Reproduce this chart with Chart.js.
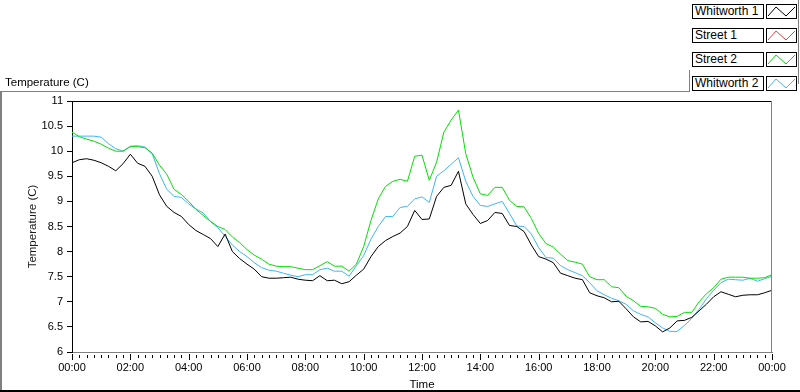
<!DOCTYPE html>
<html>
<head>
<meta charset="utf-8">
<script src="https://cdn.jsdelivr.net/npm/chart.js@4"></script>
<style>
  html, body { margin: 0; padding: 0; background: #fff; }
  #wrap { position: relative; width: 800px; height: 392px; overflow: hidden; font-family: "Liberation Sans", Arial, sans-serif; }
  #plot { position: absolute; left: 0; top: 0; }
  .line { position: absolute; }
  #panelTitle { position: absolute; left: 5px; top: 76px; font-size: 11.5px; color: #000; }
  .lgLabel { position: absolute; left: 692px; width: 68px; height: 13px; border: 1px solid #000; font-size: 12px; line-height: 13px; padding-left: 2px; background: #fff; white-space: nowrap; }
  .lgSample { position: absolute; left: 766px; width: 29px; height: 13px; border: 1px solid #000; background: #fff; }
  .lgSample svg { position: absolute; left: 0; top: 0; }
</style>
</head>
<body>
<div id="wrap">
  <canvas id="plot" width="800" height="392"></canvas>
  <div class="line" style="left:0;top:91px;width:689px;height:1px;background:#808080"></div>
  <div class="line" style="left:689px;top:70px;width:1px;height:22px;background:#808080"></div>
  <div class="line" style="left:798px;top:0;width:1px;height:84px;background:#808080"></div>
  <div class="line" style="left:0;top:91px;width:2px;height:300px;background:#808080"></div>
  <div class="line" style="left:0;top:390px;width:800px;height:2px;background:#000"></div>
  <div id="panelTitle">Temperature (C)</div>
  <div id="legend"></div>
</div>
<script>
// time of day in hours, one reading every 15 minutes
const times = [
  0, 0.25, 0.5, 0.75, 1, 1.25, 1.5, 1.75, 2, 2.25, 2.5, 2.75,
  3, 3.25, 3.5, 3.75, 4, 4.25, 4.5, 4.75, 5, 5.25, 5.5, 5.75,
  6, 6.25, 6.5, 6.75, 7, 7.25, 7.5, 7.75, 8, 8.25, 8.5, 8.75,
  9, 9.25, 9.5, 9.75, 10, 10.25, 10.5, 10.75, 11, 11.25, 11.5, 11.75,
  12, 12.25, 12.5, 12.75, 13, 13.25, 13.5, 13.75, 14, 14.25, 14.5, 14.75,
  15, 15.25, 15.5, 15.75, 16, 16.25, 16.5, 16.75, 17, 17.25, 17.5, 17.75,
  18, 18.25, 18.5, 18.75, 19, 19.25, 19.5, 19.75, 20, 20.25, 20.5, 20.75,
  21, 21.25, 21.5, 21.75, 22, 22.25, 22.5, 22.75, 23, 23.25, 23.5, 23.75, 24
];

const whitworth1 = [
  9.77, 9.83, 9.85, 9.82, 9.77, 9.70, 9.61, 9.75, 9.94, 9.76, 9.70, 9.50,
  9.13, 8.90, 8.78, 8.70, 8.54, 8.42, 8.34, 8.26, 8.10, 8.35, 8.00, 7.86,
  7.75, 7.65, 7.50, 7.47, 7.47, 7.48, 7.49, 7.45, 7.43, 7.42, 7.52, 7.42,
  7.43, 7.36, 7.40, 7.53, 7.65, 7.90, 8.10, 8.22, 8.30, 8.37, 8.50, 8.82,
  8.64, 8.65, 9.10, 9.28, 9.32, 9.60, 8.95, 8.74, 8.56, 8.62, 8.78, 8.76,
  8.52, 8.50, 8.40, 8.13, 7.90, 7.85, 7.78, 7.57, 7.52, 7.47, 7.44, 7.18,
  7.12, 7.08, 7.00, 7.01, 6.86, 6.70, 6.60, 6.61, 6.52, 6.40, 6.48, 6.62,
  6.63, 6.69, 6.82, 6.95, 7.10, 7.20, 7.15, 7.10, 7.13, 7.14, 7.14, 7.18, 7.23
];

const street1 = [];

const street2 = [
  10.38, 10.29, 10.24, 10.20, 10.14, 10.06, 10.00, 10.00, 10.09, 10.09, 10.07, 9.96,
  9.72, 9.54, 9.24, 9.14, 9.00, 8.84, 8.72, 8.60, 8.50, 8.44, 8.29, 8.18,
  8.04, 7.93, 7.85, 7.75, 7.71, 7.70, 7.70, 7.67, 7.64, 7.64, 7.72, 7.80,
  7.71, 7.71, 7.61, 7.75, 8.10, 8.62, 9.05, 9.30, 9.40, 9.44, 9.40, 9.90,
  9.92, 9.42, 9.78, 10.38, 10.62, 10.82, 9.95, 9.48, 9.15, 9.12, 9.28, 9.28,
  9.02, 8.90, 8.89, 8.66, 8.36, 8.16, 8.09, 7.95, 7.82, 7.79, 7.75, 7.50,
  7.44, 7.44, 7.30, 7.28, 7.11, 7.02, 6.91, 6.90, 6.87, 6.75, 6.70, 6.71,
  6.79, 6.79, 7.00, 7.16, 7.28, 7.45, 7.49, 7.49, 7.49, 7.47, 7.47, 7.48, 7.54
];

const whitworth2 = [
  10.30, 10.30, 10.30, 10.30, 10.28, 10.15, 10.05, 10.00, 10.10, 10.11, 10.08, 9.95,
  9.55, 9.24, 9.10, 9.08, 8.95, 8.85, 8.77, 8.60, 8.48, 8.30, 8.13, 8.00,
  7.90, 7.78, 7.68, 7.63, 7.61, 7.57, 7.53, 7.50, 7.54, 7.54, 7.64, 7.67,
  7.61, 7.61, 7.51, 7.72, 7.92, 8.25, 8.50, 8.70, 8.70, 8.88, 8.90, 9.05,
  9.09, 8.98, 9.50, 9.61, 9.74, 9.87, 9.40, 9.10, 8.92, 8.90, 8.95, 9.00,
  8.76, 8.51, 8.50, 8.35, 8.08, 7.88, 7.87, 7.72, 7.64, 7.58, 7.52, 7.38,
  7.22, 7.14, 7.07, 7.02, 6.95, 6.82, 6.75, 6.70, 6.58, 6.48, 6.41, 6.41,
  6.53, 6.67, 6.85, 7.06, 7.23, 7.38, 7.45, 7.44, 7.43, 7.47, 7.41, 7.46, 7.51
];

const seriesNames = ['Whitworth 1', 'Street 1', 'Street 2', 'Whitworth 2'];
const seriesColors = ['#000000', '#ff3c3c', '#00e000', '#3fb6f2'];
const xTickLabels = ['00:00', '02:00', '04:00', '06:00', '08:00', '10:00', '12:00',
                     '14:00', '16:00', '18:00', '20:00', '22:00', '00:00'];
const yTickLabels = ['6', '6.5', '7', '7.5', '8', '8.5', '9', '9.5', '10', '10.5', '11'];

const seriesValues = [whitworth1, street1, street2, whitworth2];

// legend boxes on the right, LabVIEW style
const legend = document.getElementById('legend');
seriesNames.forEach((name, i) => {
    const top = 4 + i * 24;
    const lab = document.createElement('div');
    lab.className = 'lgLabel';
    lab.style.top = top + 'px';
    lab.textContent = name;
    legend.appendChild(lab);
    const s = document.createElement('div');
    s.className = 'lgSample';
    s.style.top = top + 'px';
    s.innerHTML = '<svg width="29" height="13"><polyline points="1,11 9,2 19,11 28,2" fill="none" stroke="' +
        seriesColors[i] + '" stroke-width="1"/></svg>';
    legend.appendChild(s);
});

// frame lines + LabVIEW style minor/major x ticks
const framePlugin = {
    id: 'frame',
    afterDraw(chart) {
        const ctx = chart.ctx;
        const a = chart.chartArea;
        const xs = chart.scales.x;
        ctx.save();
        ctx.lineWidth = 1;
        ctx.strokeStyle = '#000';
        ctx.beginPath();
        ctx.moveTo(a.left, a.top + 0.5);
        ctx.lineTo(a.right, a.top + 0.5);
        ctx.stroke();
        ctx.strokeStyle = '#808080';
        ctx.beginPath();
        ctx.moveTo(a.right - 0.5, a.top);
        ctx.lineTo(a.right - 0.5, a.bottom);
        ctx.stroke();
        ctx.strokeStyle = '#000';
        xs.ticks.forEach(t => {
            const px = Math.round(xs.getPixelForValue(t.value)) + 0.5;
            const major = t.value % 2 === 0;
            ctx.beginPath();
            ctx.moveTo(px, a.bottom + (major ? 2 : 3));
            ctx.lineTo(px, a.bottom + (major ? 8 : 6));
            ctx.stroke();
        });
        ctx.restore();
    }
};

const ctx = document.getElementById('plot').getContext('2d');
new Chart(ctx, {
    type: 'line',
    data: {
        datasets: seriesNames.map((name, i) => ({
            label: name,
            data: seriesValues[i].map((v, j) => ({ x: times[j], y: v })),
            borderColor: seriesColors[i],
            borderWidth: 1,
            pointRadius: 0,
            tension: 0,
            fill: false
        }))
    },
    options: {
        responsive: false,
        animation: false,
        devicePixelRatio: 1,
        layout: { padding: { left: 0, top: 101, right: 28, bottom: 0 } },
        plugins: { legend: { display: false }, tooltip: { enabled: false } },
        scales: {
            x: {
                type: 'linear',
                min: 0,
                max: 24,
                afterFit(scale) { scale.height = 40; },
                ticks: {
                    stepSize: 0.25,
                    autoSkip: false,
                    maxRotation: 0,
                    padding: 9,
                    color: '#000',
                    font: { family: 'Liberation Sans', size: 11 },
                    callback: v => (v % 2 === 0 ? xTickLabels[v / 2] : '')
                },
                grid: { display: true, drawOnChartArea: false, drawTicks: false },
                border: { color: '#808080', width: 1 },
                title: {
                    display: true,
                    text: 'Time',
                    color: '#000',
                    font: { family: 'Liberation Sans', size: 11.5 },
                    padding: { top: 0, bottom: 0 }
                }
            },
            y: {
                min: 6,
                max: 11,
                afterFit(scale) { scale.width = 72; },
                ticks: {
                    stepSize: 0.5,
                    padding: 4,
                    color: '#000',
                    font: { family: 'Liberation Sans', size: 11 },
                    callback: v => yTickLabels[Math.round((v - 6) * 2)]
                },
                grid: { drawOnChartArea: false, tickLength: 5, tickColor: '#000' },
                border: { color: '#000', width: 1 },
                title: {
                    display: true,
                    text: 'Temperature (C)',
                    color: '#1a1a1a',
                    font: { family: 'Liberation Sans', size: 11.5 },
                    padding: { top: 26, bottom: 0 }
                }
            }
        }
    },
    plugins: [framePlugin]
});
</script>
</body>
</html>
